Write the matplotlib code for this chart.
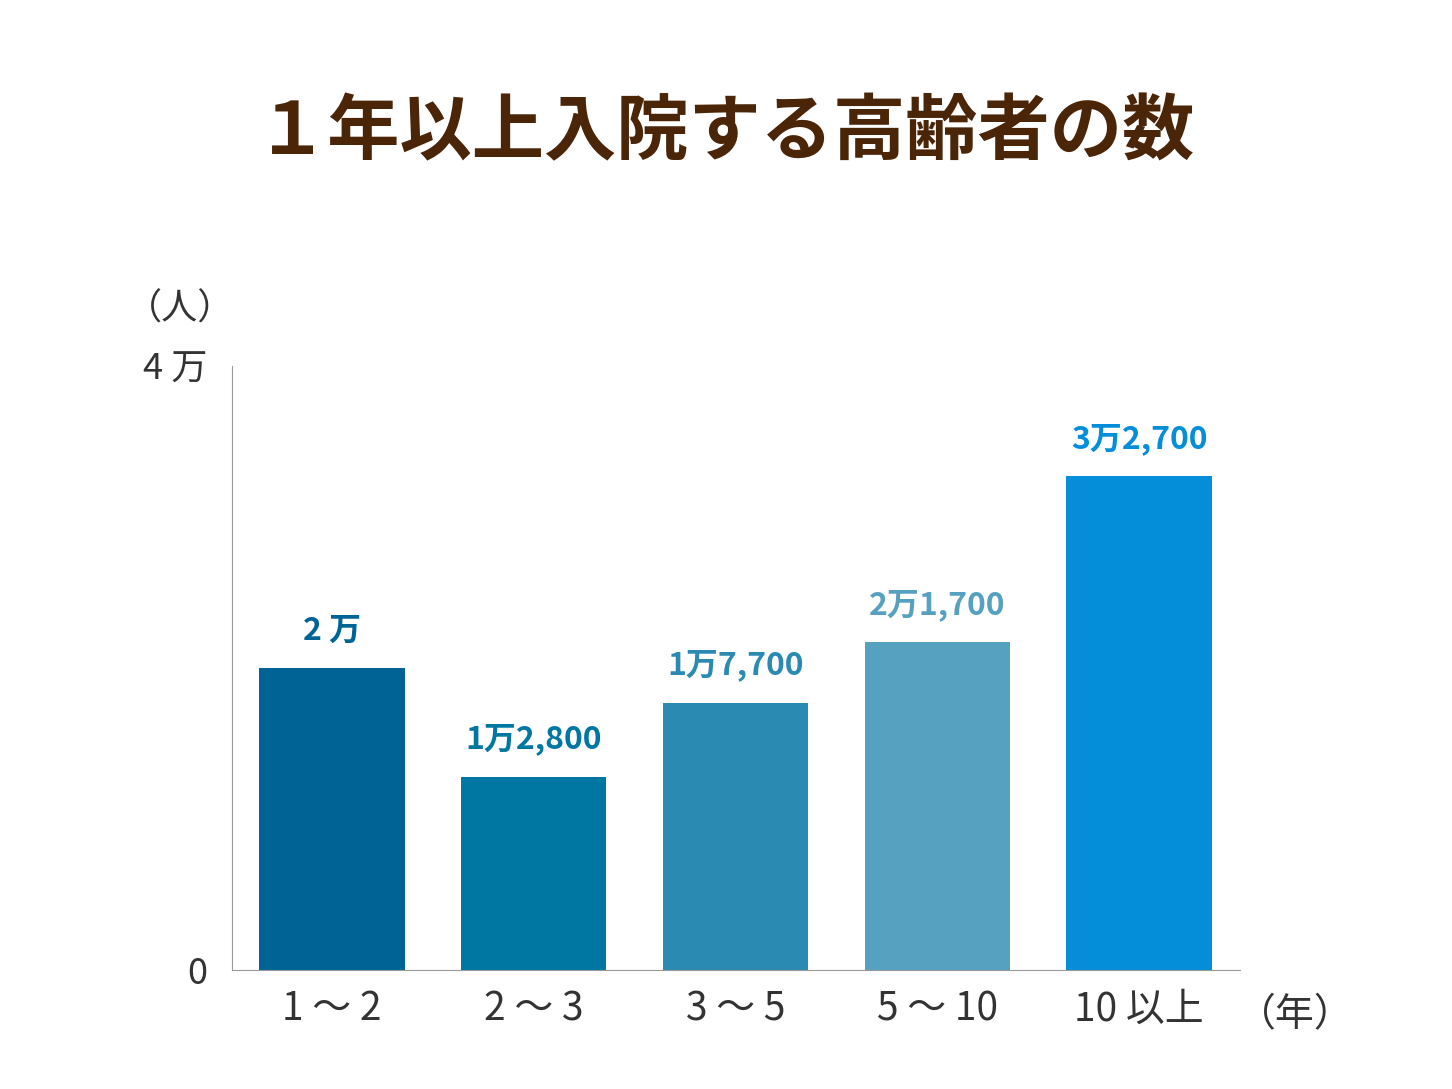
import matplotlib
matplotlib.use("Agg")
import matplotlib.pyplot as plt

categories = ["1 ～ 2", "2 ～ 3", "3 ～ 5", "5 ～ 10", "10 以上"]
values = [20000, 12800, 17700, 21700, 32700]
value_labels = ["2 万", "1万2,800", "1万7,700", "2万1,700", "3万2,700"]
colors = ["#006396", "#0076a3", "#2b8ab1", "#56a1c0", "#048ed9"]

plt.rcParams["font.family"] = "Noto Sans CJK JP"
fig = plt.figure(figsize=(14.52, 10.89), dpi=100)
ax = fig.add_axes([232/1452, 119/1089, 1008/1452, 604/1089])
x = range(len(categories))
ax.bar(x, values, width=0.72, color=colors)
for i, (v, l, c) in enumerate(zip(values, value_labels, colors)):
    ax.text(i, v + 1400, l, ha="center", va="bottom", color=c, fontsize=23, fontweight="bold")
ax.set_xlim(-0.495, 4.5)
ax.set_ylim(0, 40000)
ax.set_yticks([0, 40000])
ax.set_yticklabels(["0", "4 万"], fontsize=26, color="#333333")
ax.set_xticks(list(x))
ax.set_xticklabels(categories, fontsize=28, color="#333333")
ax.tick_params(length=0, pad=14)
ax.tick_params(axis="y", pad=18)
for s in ["top", "right"]:
    ax.spines[s].set_visible(False)
for s in ["left", "bottom"]:
    ax.spines[s].set_color("#999999")
fig.text(180/1452, 1 - 310/1089, "（人）", ha="center", va="center", fontsize=26, color="#333333")
fig.text(1295/1452, 1 - 1015/1089, "（年）", ha="center", va="center", fontsize=28, color="#333333")
fig.text(0.5, 1 - 133/1089, "１年以上入院する高齢者の数", ha="center", va="center",
         fontsize=52, fontweight="bold", color="#4a2508")
fig.savefig("out.png", dpi=100)
